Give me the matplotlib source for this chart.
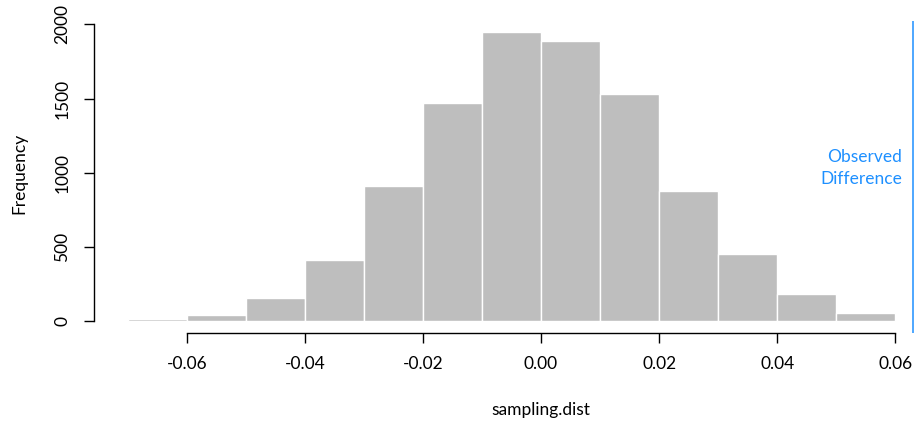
import matplotlib
matplotlib.use("Agg")
import matplotlib.pyplot as plt
import numpy as np

# Data: histogram of sampling.dist
bin_edges = [-0.07, -0.06, -0.05, -0.04, -0.03, -0.02, -0.01, 0.00, 0.01, 0.02, 0.03, 0.04, 0.05, 0.06]
counts = [10, 40, 155, 410, 908, 1469, 1949, 1886, 1528, 877, 455, 180, 54]
observed_difference = 0.0630
x_ticks = [-0.06, -0.04, -0.02, 0.00, 0.02, 0.04, 0.06]
x_tick_labels = ["-0.06", "-0.04", "-0.02", "0.00", "0.02", "0.04", "0.06"]
y_ticks = [0, 500, 1000, 1500, 2000]

plt.rcParams['font.family'] = ['Lato', 'DejaVu Sans']
W, H = 914, 426
fig = plt.figure(figsize=(W / 100, H / 100), dpi=100)

# axes in pixel terms
left_px, right_px = 97, 926
top_px, bot_px = 20.5, 332.5
ax = fig.add_axes([left_px / W, (H - bot_px) / H, (right_px - left_px) / W, (bot_px - top_px) / H])

edges = np.array(bin_edges)
ax.bar(edges[:-1], counts, width=np.diff(edges), align='edge',
       color='#BEBEBE', edgecolor='white', linewidth=1.0)

ax.axvline(observed_difference, color='#1E90FF', linewidth=1.1)
ax.text(0.0611, 1034, "Observed\nDifference", color='#1E90FF', ha='right', va='center',
        multialignment='right', fontsize=12.5, linespacing=1.45)

ymax = max(counts)
ax.set_xlim(-0.0752, 0.0652)
ax.set_ylim(-0.04 * ymax, 1.04 * ymax)

for s in ['top', 'right']:
    ax.spines[s].set_visible(False)
ax.spines['left'].set_bounds(0, 2000)
ax.spines['bottom'].set_bounds(-0.06, 0.06)
ax.spines['left'].set_position(('outward', 2))
for s in ['left', 'bottom']:
    ax.spines[s].set_linewidth(1.0)
    ax.spines[s].set_color('black')

ax.set_xticks(x_ticks)
ax.set_xticklabels(x_tick_labels)
ax.set_yticks(y_ticks)
ax.set_yticklabels([str(v) for v in y_ticks], rotation=90, va='center')
ax.tick_params(axis='both', direction='out', length=7.2, width=1.0, labelsize=12.5, colors='black')
ax.tick_params(axis='y', pad=10)
ax.tick_params(axis='x', pad=10)

fig.text(541 / W, 1 - 410 / H, "sampling.dist", ha='center', va='center', fontsize=12.5)
fig.text(19 / W, 1 - 173 / H, "Frequency", ha='center', va='center', rotation=90, fontsize=12.5)

fig.savefig("out.png", dpi=100)
